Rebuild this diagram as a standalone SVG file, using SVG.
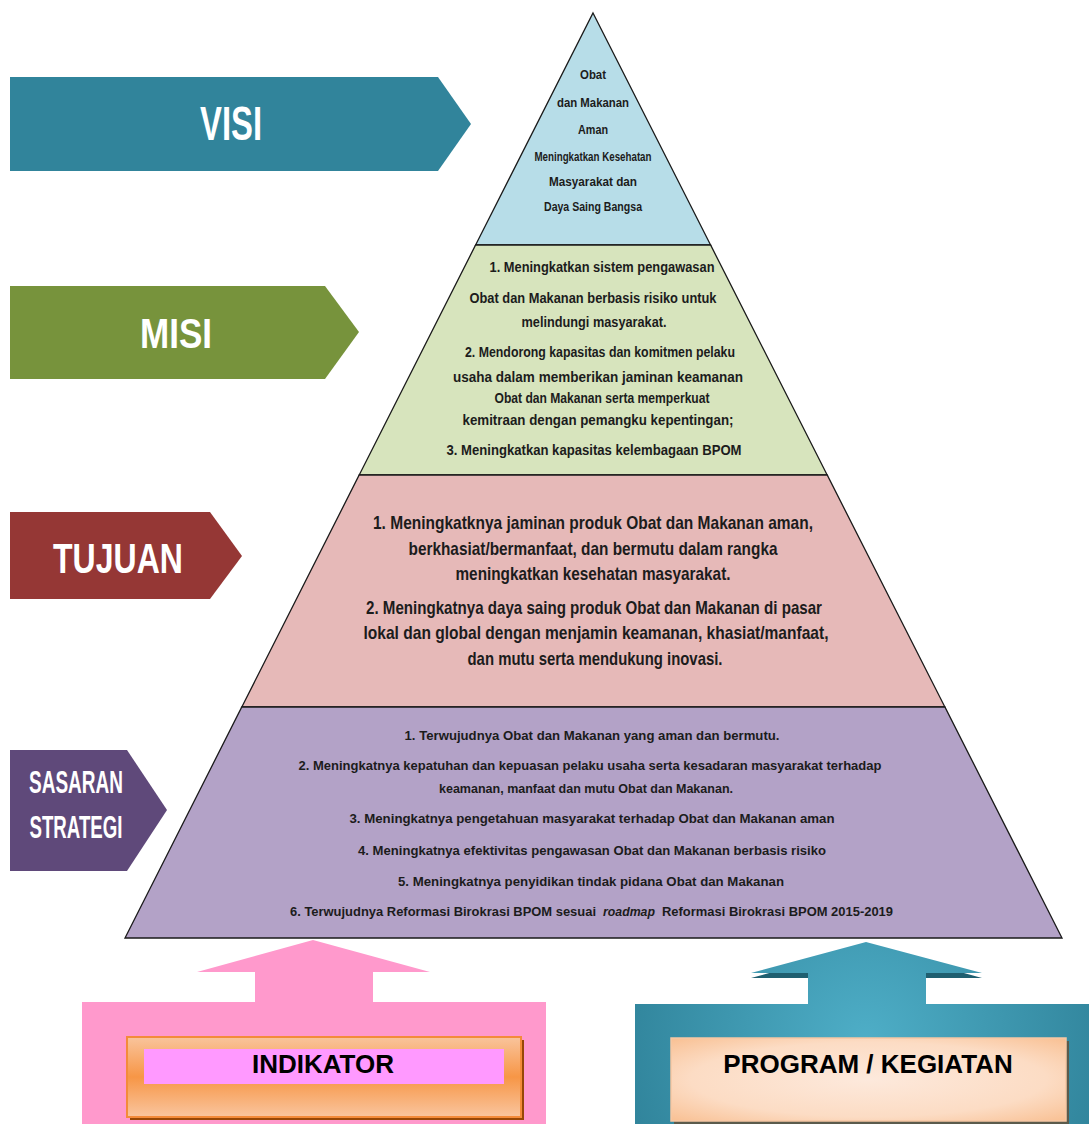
<svg xmlns="http://www.w3.org/2000/svg" width="1089" height="1124" viewBox="0 0 1089 1124">
  <defs>
    <style>
      .lbl { font-family: "Liberation Sans", Arial, sans-serif; font-weight: bold; fill: #ffffff; text-anchor: middle; }
      .pt { font-family: "Liberation Sans", Arial, sans-serif; font-weight: bold; fill: #1c1c1c; text-anchor: middle; }
      .ps { font-family: "Liberation Sans", Arial, sans-serif; font-weight: bold; fill: #1c1c1c; text-anchor: start; font-size: 12px; }
      .layer { stroke: #1a1a1a; stroke-width: 1.3; stroke-linejoin: miter; }
      .btn { font-family: "Liberation Sans", Arial, sans-serif; font-weight: bold; fill: #000000; text-anchor: middle; font-size: 26px; }
      .v { font-size: 12px; }
      .m { font-size: 14.5px; }
      .t { font-size: 19px; }
      .s { font-size: 13.5px; }
    </style>
    <linearGradient id="orangeGrad" x1="0" y1="0" x2="0" y2="1">
      <stop offset="0" stop-color="#f9c49c"/>
      <stop offset="0.5" stop-color="#f79646"/>
      <stop offset="1" stop-color="#f9c59f"/>
    </linearGradient>
    <radialGradient id="tealGrad" cx="866" cy="1040" r="260" gradientUnits="userSpaceOnUse">
      <stop offset="0" stop-color="#4eaec7"/>
      <stop offset="1" stop-color="#2f8299"/>
    </radialGradient>
    <radialGradient id="peachGrad" cx="0.5" cy="0.5" r="0.75">
      <stop offset="0" stop-color="#fde9dc"/>
      <stop offset="0.6" stop-color="#fcdcc4"/>
      <stop offset="1" stop-color="#f8bb8a"/>
    </radialGradient>
  </defs>
  <rect x="0" y="0" width="1089" height="1124" fill="#ffffff"/>

  <!-- Left labels -->
  <g id="label-visi">
    <polygon points="10,77 438,77 471,124 438,171 10,171" fill="#31849b"/>
    <text class="lbl" x="231" y="140" font-size="48" textLength="62" lengthAdjust="spacingAndGlyphs">VISI</text>
  </g>
  <g id="label-misi">
    <polygon points="10,286 325,286 359,332 325,379 10,379" fill="#77933c"/>
    <text class="lbl" x="176" y="348" font-size="43" textLength="72" lengthAdjust="spacingAndGlyphs">MISI</text>
  </g>
  <g id="label-tujuan">
    <polygon points="10,512 210,512 242,556 210,599 10,599" fill="#953735"/>
    <text class="lbl" x="118" y="573" font-size="42" textLength="130" lengthAdjust="spacingAndGlyphs">TUJUAN</text>
  </g>
  <g id="label-sasaran">
    <polygon points="10,750 127,750 167,810 127,871 10,871" fill="#5f497a"/>
    <text class="lbl" x="76" y="793" font-size="32" textLength="94" lengthAdjust="spacingAndGlyphs">SASARAN</text>
    <text class="lbl" x="76" y="838" font-size="32" textLength="93" lengthAdjust="spacingAndGlyphs">STRATEGI</text>
  </g>

  <!-- Pyramid layers -->
  <g id="layer-visi">
    <polygon class="layer" points="593,13 710.6,245 475.6,245" fill="#b7dde8"/>
    <text class="pt v" x="593" y="79" textLength="26" lengthAdjust="spacingAndGlyphs">Obat</text>
    <text class="pt v" x="593" y="107" textLength="72" lengthAdjust="spacingAndGlyphs">dan Makanan</text>
    <text class="pt v" x="593" y="134" textLength="30" lengthAdjust="spacingAndGlyphs">Aman</text>
    <text class="pt v" x="593" y="161" textLength="117" lengthAdjust="spacingAndGlyphs">Meningkatkan Kesehatan</text>
    <text class="pt v" x="593" y="186" textLength="88" lengthAdjust="spacingAndGlyphs">Masyarakat dan</text>
    <text class="pt v" x="593" y="211" textLength="98" lengthAdjust="spacingAndGlyphs">Daya Saing Bangsa</text>
  </g>

  <g id="layer-misi">
    <polygon class="layer" points="475.6,245 710.6,245 827.2,475 359.2,475" fill="#d7e4bd"/>
    <text class="pt m" x="602" y="272" textLength="225" lengthAdjust="spacingAndGlyphs">1. Meningkatkan sistem pengawasan</text>
    <text class="pt m" x="593" y="303" textLength="247" lengthAdjust="spacingAndGlyphs">Obat dan Makanan berbasis risiko untuk</text>
    <text class="pt m" x="594" y="327" textLength="145" lengthAdjust="spacingAndGlyphs">melindungi masyarakat.</text>
    <text class="pt m" x="600" y="357" textLength="270" lengthAdjust="spacingAndGlyphs">2. Mendorong kapasitas dan komitmen pelaku</text>
    <text class="pt m" x="598" y="382" textLength="290" lengthAdjust="spacingAndGlyphs">usaha dalam memberikan jaminan keamanan</text>
    <text class="pt m" x="602" y="403" textLength="215" lengthAdjust="spacingAndGlyphs">Obat dan Makanan serta memperkuat</text>
    <text class="pt m" x="598" y="425" textLength="271" lengthAdjust="spacingAndGlyphs">kemitraan dengan pemangku kepentingan;</text>
    <text class="pt m" x="594" y="455" textLength="295" lengthAdjust="spacingAndGlyphs">3. Meningkatkan kapasitas kelembagaan BPOM</text>
  </g>

  <g id="layer-tujuan">
    <polygon class="layer" points="359.2,475 827.2,475 944.9,707 241.8,707" fill="#e6b9b8"/>
    <text class="pt t" x="593" y="529" textLength="440" lengthAdjust="spacingAndGlyphs">1. Meningkatknya jaminan produk Obat dan Makanan aman,</text>
    <text class="pt t" x="593" y="555" textLength="369" lengthAdjust="spacingAndGlyphs">berkhasiat/bermanfaat, dan bermutu dalam rangka</text>
    <text class="pt t" x="593" y="580" textLength="275" lengthAdjust="spacingAndGlyphs">meningkatkan kesehatan masyarakat.</text>
    <text class="pt t" x="594" y="614" textLength="456" lengthAdjust="spacingAndGlyphs">2. Meningkatnya daya saing produk Obat dan Makanan di pasar</text>
    <text class="pt t" x="596" y="639" textLength="465" lengthAdjust="spacingAndGlyphs">lokal dan global dengan menjamin keamanan, khasiat/manfaat,</text>
    <text class="pt t" x="595" y="665" textLength="255" lengthAdjust="spacingAndGlyphs">dan mutu serta mendukung inovasi.</text>
  </g>

  <g id="layer-sasaran">
    <polygon class="layer" points="241.8,707 944.9,707 1062,938 125,938" fill="#b3a2c7"/>
    <text class="pt s" x="592" y="740" textLength="375" lengthAdjust="spacingAndGlyphs">1. Terwujudnya Obat dan Makanan yang aman dan bermutu.</text>
    <text class="pt s" x="590" y="770" textLength="583" lengthAdjust="spacingAndGlyphs">2. Meningkatnya kepatuhan dan kepuasan pelaku usaha serta kesadaran masyarakat terhadap</text>
    <text class="pt s" x="586" y="793" textLength="294" lengthAdjust="spacingAndGlyphs">keamanan, manfaat dan mutu Obat dan Makanan.</text>
    <text class="pt s" x="592" y="823" textLength="485" lengthAdjust="spacingAndGlyphs">3. Meningkatnya pengetahuan masyarakat terhadap Obat dan Makanan aman</text>
    <text class="pt s" x="592" y="855" textLength="468" lengthAdjust="spacingAndGlyphs">4. Meningkatnya efektivitas pengawasan Obat dan Makanan berbasis risiko</text>
    <text class="pt s" x="591" y="886" textLength="386" lengthAdjust="spacingAndGlyphs">5. Meningkatnya penyidikan tindak pidana Obat dan Makanan</text>
    <text class="ps" x="290" y="916" textLength="306" lengthAdjust="spacingAndGlyphs">6. Terwujudnya Reformasi Birokrasi BPOM sesuai</text>
    <text class="ps" x="603" y="916" font-style="italic" textLength="52" lengthAdjust="spacingAndGlyphs">roadmap</text>
    <text class="ps" x="662" y="916" textLength="231" lengthAdjust="spacingAndGlyphs">Reformasi Birokrasi BPOM 2015-2019</text>
  </g>

  <!-- Upward arrows (connectors) -->
  <g id="connectors">
    <polygon points="313,940 430,972 373,972 373,1004 255,1004 255,972 197,972" fill="#ff99cc"/>
    <polygon points="866,946 982,978 926,978 926,1006 808,1006 808,978 751,978" fill="#1f5f70"/>
    <polygon points="866,942 982,973 926,973 926,1004 808,1004 808,973 751,973" fill="url(#tealGrad)"/>
  </g>

  <!-- Bottom boxes -->
  <g id="node-indikator">
    <rect x="82" y="1002" width="464" height="122" fill="#ff99cc"/>
    <rect x="130" y="1040" width="394" height="80" fill="#974706"/>
    <rect x="127" y="1037" width="394" height="80" fill="url(#orangeGrad)" stroke="#f38b3a" stroke-width="2"/>
    <rect x="144" y="1049" width="360" height="35" fill="#ff99ff"/>
    <text class="btn" x="323" y="1073">INDIKATOR</text>
  </g>

  <g id="node-program">
    <rect x="635" y="1004" width="454" height="120" fill="url(#tealGrad)"/>
    <rect x="674" y="1041" width="395" height="83" fill="#5b5b4c"/>
    <rect x="671" y="1038" width="395" height="83" fill="url(#peachGrad)" stroke="#f6c7a4" stroke-width="1.5"/>
    <text class="btn" x="868" y="1073">PROGRAM / KEGIATAN</text>
  </g>
</svg>
